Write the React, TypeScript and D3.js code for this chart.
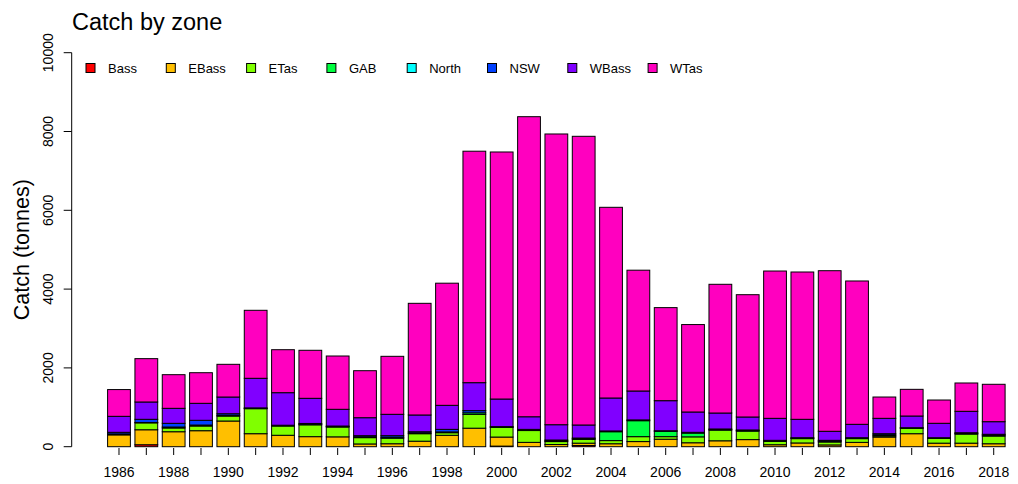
import * as d3 from "d3";
import React from "react";

// catch by zone, tonnes, 1986-2018
const years = d3.range(1986, 2019);
const zones = ["Bass", "EBass", "ETas", "GAB", "North", "NSW", "WBass", "WTas"];
const zoneColors = ["#FF0000", "#FFBF00", "#80FF00", "#00FF40", "#00FFFF", "#0040FF", "#8000FF", "#FF00BF"];

const bass = [0, 50, 0, 0, 0, 0, 0, 0, 0, 0, 0, 0, 0, 0, 15, 0, 0, 30, 0, 0, 0, 0, 0, 0, 0, 0, 0, 0, 0, 0, 0, 0, 0];
const ebass = [300, 380, 380, 406, 652, 330, 290, 255, 250, 70, 75, 140, 290, 470, 230, 110, 55, 60, 75, 130, 190, 100, 150, 180, 50, 95, 45, 110, 245, 330, 90, 90, 75];
const etas = [25, 175, 95, 119, 125, 635, 235, 300, 250, 160, 140, 190, 65, 350, 245, 300, 75, 95, 80, 125, 65, 150, 270, 215, 85, 110, 75, 95, 30, 137, 120, 230, 195];
const gab = [0, 10, 25, 25, 20, 10, 10, 15, 10, 20, 25, 20, 20, 40, 10, 15, 20, 20, 225, 405, 135, 95, 15, 15, 15, 12, 20, 12, 25, 8, 10, 15, 25];
const north = [0, 0, 0, 0, 0, 0, 0, 0, 0, 0, 0, 0, 0, 0, 0, 0, 0, 0, 0, 0, 0, 0, 0, 0, 0, 0, 0, 0, 0, 0, 0, 0, 0];
const nsw = [40, 80, 93, 120, 40, 10, 10, 20, 15, 30, 40, 30, 65, 55, 10, 15, 20, 15, 20, 20, 15, 20, 15, 15, 12, 11, 22, 11, 30, 7, 8, 20, 20];
const wbass = [406, 440, 381, 431, 424, 751, 826, 638, 424, 456, 542, 425, 610, 710, 700, 320, 388, 331, 836, 734, 763, 516, 405, 329, 558, 467, 229, 340, 390, 297, 366, 543, 320];
const wtas = [679, 1100, 854, 777, 830, 1726, 1091, 1219, 1353, 1193, 1472, 2834, 3100, 5875, 6270, 7616, 7379, 7327, 4840, 3066, 2362, 2219, 3267, 3104, 3739, 3739, 4076, 3638, 541, 677, 591, 719, 949];

const yTicks = [0, 2000, 4000, 6000, 8000, 10000];

const width = 1018;
const height = 484;
const plot = { left: 71.7, right: 1041, top: 52.7, bottom: 446.7 };
const font = "'Liberation Sans', Arial, Helvetica, sans-serif";

export default function App() {
  const series = [bass, ebass, etas, gab, north, nsw, wbass, wtas];
  const rows = years.map((yr, i) => {
    const r: Record<string, number> = { year: yr };
    zones.forEach((z, k) => (r[z] = series[k][i]));
    return r;
  });
  const stacked = d3.stack<Record<string, number>>().keys(zones)(rows);

  // barplot layout: width 1, space 0.2
  const x = d3
    .scaleBand<number>()
    .domain(years)
    .range([plot.left, plot.right])
    .paddingInner(0.2 / 1.2)
    .paddingOuter(1.3133);
  const y = d3.scaleLinear().domain([0, 10000]).range([plot.bottom, plot.top]);
  const bw = x.bandwidth();

  return (
    <svg width={width} height={height} style={{ display: "block", position: "absolute", left: 0, top: 0 }} fontFamily={font}>
      <rect width={width} height={height} fill="white" />
      <text x={72} y={30} fontSize={23.5}>Catch by zone</text>

      {/* bars */}
      {stacked.map((s, k) => (
        <g key={zones[k]} fill={zoneColors[k]} stroke="black" strokeWidth={1}>
          {s.map((d, i) => (
            <rect
              key={i}
              x={x(years[i])!}
              y={y(d[1])}
              width={bw}
              height={Math.max(0, y(d[0]) - y(d[1]))}
            />
          ))}
        </g>
      ))}

      {/* y axis */}
      <g stroke="black" strokeWidth={1}>
        <line x1={plot.left} x2={plot.left} y1={y(0)} y2={y(10000)} />
        {yTicks.map((t) => (
          <line key={t} x1={plot.left - 8} x2={plot.left} y1={y(t)} y2={y(t)} />
        ))}
      </g>
      {yTicks.map((t) => (
        <text
          key={t}
          transform={`translate(52.5,${y(t)}) rotate(-90)`}
          textAnchor="middle"
          fontSize={14}
        >
          {t}
        </text>
      ))}
      <text transform={`translate(29,${(plot.top + plot.bottom) / 2}) rotate(-90)`} textAnchor="middle" fontSize={21.5}>
        Catch (tonnes)
      </text>

      {/* x axis: ticks every year, labels every other */}
      <g stroke="black" strokeWidth={1}>
        {years.map((yr) => (
          <line key={yr} x1={x(yr)! + bw / 2} x2={x(yr)! + bw / 2} y1={448} y2={455} />
        ))}
      </g>
      {years
        .filter((yr) => yr % 2 === 0)
        .map((yr) => (
          <text key={yr} x={x(yr)! + bw / 2} y={477} textAnchor="middle" fontSize={14}>
            {yr}
          </text>
        ))}

      {/* legend */}
      {zones.map((z, k) => (
        <g key={z} transform={`translate(${90.5 + k * 80.3},68)`}>
          <rect x={-4.5} y={-4.5} width={9} height={9} fill={zoneColors[k]} stroke="black" strokeWidth={1} />
          <text x={17.5} y={4.5} fontSize={13}>{z}</text>
        </g>
      ))}
    </svg>
  );
}
